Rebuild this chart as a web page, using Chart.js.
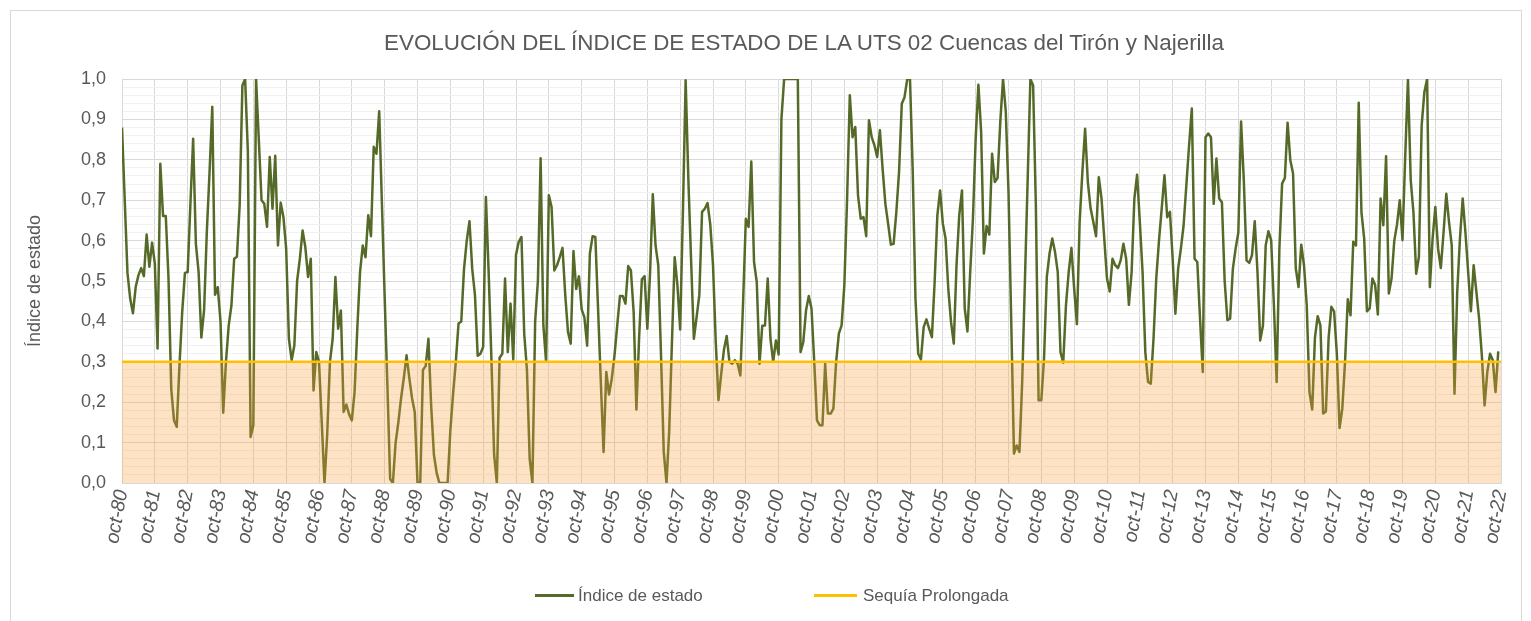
<!DOCTYPE html>
<html lang="es">
<head>
<meta charset="utf-8">
<title>Índice de estado UTS 02</title>
<script src="https://cdn.jsdelivr.net/npm/chart.js@4.4.1/dist/chart.umd.min.js"></script>
<style>
    html, body { margin: 0; padding: 0; background: #ffffff; }
    #wrap { position: relative; width: 1531px; height: 621px; overflow: hidden; font-family: "Liberation Sans", Arial, sans-serif; color: #595959; }
    #frame { position: absolute; left: 10px; top: 10px; width: 1512px; height: 660px; border: 1px solid #d9d9d9; box-sizing: border-box; }
    #grafico { position: absolute; left: 0; top: 0; }
    #titulo { position: absolute; left: 804px; top: 30px; transform: translateX(-50%); font-size: 22.4px; line-height: 26px; white-space: nowrap; }
    .leyenda { position: absolute; top: 586px; font-size: 17px; white-space: nowrap; line-height: 20px; }
    .leyenda i { display: inline-block; height: 3px; vertical-align: middle; position: relative; top: -1px; }
</style>
</head>
<body>
<div id="wrap">
    <div id="frame"></div>
    <canvas id="grafico" width="1531" height="621"></canvas>
    <div id="titulo">EVOLUCIÓN DEL ÍNDICE DE ESTADO DE LA UTS 02 Cuencas del Tirón y Najerilla</div>
    <div class="leyenda" style="left:535px"><i style="background:#556a28; width:39px; margin-right:4px"></i>Índice de estado</div>
    <div class="leyenda" style="left:814px"><i style="background:#ffc000; width:43px; margin-right:6px"></i>Sequía Prolongada</div>
</div>
<script>
// Etiquetas del eje X (una por año hidrológico)
const etiquetasAnio = [
    'oct-80', 'oct-81', 'oct-82', 'oct-83', 'oct-84', 'oct-85', 'oct-86', 'oct-87', 'oct-88', 'oct-89',
    'oct-90', 'oct-91', 'oct-92', 'oct-93', 'oct-94', 'oct-95', 'oct-96', 'oct-97', 'oct-98', 'oct-99',
    'oct-00', 'oct-01', 'oct-02', 'oct-03', 'oct-04', 'oct-05', 'oct-06', 'oct-07', 'oct-08', 'oct-09',
    'oct-10', 'oct-11', 'oct-12', 'oct-13', 'oct-14', 'oct-15', 'oct-16', 'oct-17', 'oct-18', 'oct-19',
    'oct-20', 'oct-21', 'oct-22'
];

// Umbral de sequía prolongada
const umbralSequia = 0.3;

// Índice de estado mensual, de oct-80 a sep-22 (una fila por año hidrológico)
const indiceEstado = [
    0.88, 0.70, 0.52, 0.456, 0.42, 0.485, 0.514, 0.532, 0.512, 0.615, 0.535, 0.595,   // 80-81
    0.543, 0.333, 0.79, 0.661, 0.661, 0.506, 0.233, 0.155, 0.139, 0.29, 0.423, 0.52,  // 81-82
    0.522, 0.69, 0.852, 0.592, 0.522, 0.36, 0.427, 0.621, 0.77, 0.931, 0.466, 0.485,  // 82-83
    0.40, 0.174, 0.30, 0.39, 0.44, 0.555, 0.56, 0.687, 0.984, 1.0, 0.82, 0.114,       // 83-84
    0.143, 1.0, 0.85, 0.70, 0.691, 0.634, 0.807, 0.679, 0.81, 0.588, 0.694, 0.658,    // 84-85
    0.58, 0.357, 0.304, 0.341, 0.50, 0.555, 0.625, 0.584, 0.51, 0.555, 0.229, 0.324,  // 85-86
    0.30, 0.151, 0.0, 0.12, 0.30, 0.357, 0.51, 0.382, 0.427, 0.176, 0.194, 0.17,      // 86-87
    0.155, 0.225, 0.382, 0.522, 0.588, 0.559, 0.663, 0.611, 0.832, 0.815, 0.92, 0.69, // 87-88
    0.46, 0.24, 0.01, 0.0, 0.10, 0.15, 0.21, 0.26, 0.316, 0.26, 0.21, 0.175,          // 88-89
    0.0, 0.0, 0.28, 0.29, 0.357, 0.19, 0.07, 0.025, 0.0, 0.0, 0.0, 0.0,               // 89-90
    0.13, 0.22, 0.30, 0.395, 0.40, 0.53, 0.60, 0.648, 0.53, 0.465, 0.315, 0.32,       // 90-91
    0.337, 0.708, 0.522, 0.31, 0.07, 0.0, 0.31, 0.32, 0.506, 0.324, 0.444, 0.306,     // 91-92
    0.565, 0.597, 0.609, 0.37, 0.28, 0.06, 0.0, 0.40, 0.50, 0.804, 0.39, 0.30,        // 92-93
    0.712, 0.683, 0.526, 0.539, 0.559, 0.582, 0.465, 0.374, 0.345, 0.574, 0.48, 0.512, // 93-94
    0.43, 0.41, 0.34, 0.568, 0.611, 0.609, 0.43, 0.25, 0.077, 0.275, 0.219, 0.258,    // 94-95
    0.316, 0.39, 0.463, 0.463, 0.444, 0.537, 0.526, 0.423, 0.182, 0.36, 0.504, 0.512, // 95-96
    0.382, 0.52, 0.715, 0.588, 0.539, 0.316, 0.077, 0.0, 0.13, 0.35, 0.559, 0.489,    // 96-97
    0.38, 0.67, 0.997, 0.75, 0.55, 0.357, 0.41, 0.465, 0.671, 0.679, 0.693, 0.64,     // 97-98
    0.54, 0.35, 0.205, 0.27, 0.33, 0.364, 0.30, 0.295, 0.304, 0.295, 0.266, 0.448,    // 98-99
    0.654, 0.634, 0.796, 0.547, 0.497, 0.295, 0.389, 0.39, 0.506, 0.357, 0.30, 0.353, // 99-00
    0.318, 0.90, 1.0, 1.0, 1.0, 1.0, 1.0, 1.0, 0.324, 0.349, 0.427, 0.463,            // 00-01
    0.432, 0.30, 0.155, 0.143, 0.143, 0.295, 0.172, 0.172, 0.184, 0.30, 0.37, 0.39,   // 01-02
    0.489, 0.70, 0.96, 0.856, 0.881, 0.712, 0.654, 0.658, 0.611, 0.898, 0.856, 0.836, // 02-03
    0.807, 0.873, 0.777, 0.691, 0.642, 0.59, 0.592, 0.67, 0.77, 0.939, 0.955, 1.0,    // 03-04
    1.0, 0.77, 0.456, 0.32, 0.306, 0.386, 0.405, 0.382, 0.361, 0.497, 0.663, 0.724,   // 04-05
    0.642, 0.605, 0.48, 0.398, 0.345, 0.539, 0.663, 0.724, 0.432, 0.375, 0.522, 0.654, // 05-06
    0.852, 0.986, 0.869, 0.568, 0.636, 0.615, 0.815, 0.745, 0.755, 0.894, 1.0, 0.92,  // 06-07
    0.72, 0.40, 0.073, 0.093, 0.077, 0.25, 0.50, 0.75, 1.0, 0.984, 0.687, 0.205,      // 07-08
    0.205, 0.31, 0.51, 0.568, 0.605, 0.572, 0.522, 0.324, 0.298, 0.44, 0.522, 0.582,  // 08-09
    0.481, 0.393, 0.646, 0.77, 0.877, 0.745, 0.68, 0.646, 0.611, 0.757, 0.704, 0.605, // 09-10
    0.506, 0.474, 0.555, 0.539, 0.532, 0.551, 0.592, 0.555, 0.441, 0.522, 0.704, 0.763, // 10-11
    0.646, 0.522, 0.324, 0.25, 0.246, 0.357, 0.506, 0.60, 0.68, 0.762, 0.658, 0.671,  // 11-12
    0.555, 0.419, 0.53, 0.58, 0.638, 0.737, 0.836, 0.927, 0.555, 0.547, 0.407, 0.275, // 12-13
    0.856, 0.865, 0.856, 0.691, 0.803, 0.704, 0.695, 0.50, 0.403, 0.407, 0.53, 0.58,  // 13-14
    0.62, 0.895, 0.75, 0.551, 0.545, 0.564, 0.648, 0.522, 0.353, 0.39, 0.588, 0.623,  // 14-15
    0.601, 0.44, 0.25, 0.58, 0.741, 0.755, 0.892, 0.799, 0.766, 0.531, 0.485, 0.59,   // 15-16
    0.539, 0.44, 0.225, 0.182, 0.36, 0.413, 0.39, 0.172, 0.177, 0.36, 0.436, 0.425,   // 16-17
    0.32, 0.136, 0.184, 0.30, 0.455, 0.415, 0.597, 0.588, 0.941, 0.67, 0.605, 0.425,  // 17-18
    0.432, 0.506, 0.49, 0.417, 0.704, 0.638, 0.809, 0.469, 0.506, 0.60, 0.64, 0.70,   // 18-19
    0.601, 0.81, 1.0, 0.75, 0.67, 0.518, 0.56, 0.885, 0.968, 1.0, 0.485, 0.605,       // 19-20
    0.683, 0.58, 0.532, 0.62, 0.716, 0.646, 0.588, 0.221, 0.473, 0.605, 0.704, 0.62,  // 20-21
    0.522, 0.425, 0.539, 0.473, 0.407, 0.316, 0.192, 0.275, 0.32, 0.304, 0.225, 0.326 // 21-22
];

const totalMeses = (etiquetasAnio.length - 1) * 12;
const fuente = '"Liberation Sans", Arial, sans-serif';
const gris = '#595959';

// Puntos para la escala lineal (un punto por mes)
const puntosIndice = indiceEstado.map((v, i) => ({ x: i, y: v }));
const puntosSequia = [];
for (let i = 0; i <= totalMeses; i++) {
    puntosSequia.push({ x: i, y: umbralSequia });
}

// Líneas principales cada 0,1 y secundarias cada 0,02
function esMayor(valor) {
    return Math.round(valor * 100) % 10 === 0;
}

const ctx = document.getElementById('grafico').getContext('2d');
const chart = new Chart(ctx, {
    type: 'line',
    data: {
        datasets: [{
            label: 'Sequía Prolongada',
            data: puntosSequia,
            borderColor: '#ffc000',
            borderWidth: 2.5,
            backgroundColor: 'rgba(248, 160, 60, 0.30)',
            fill: 'origin',
            pointRadius: 0,
            order: 1
        }, {
            label: 'Índice de estado',
            data: puntosIndice,
            borderColor: '#556a28',
            borderWidth: 2.5,
            borderJoinStyle: 'round',
            fill: false,
            pointRadius: 0,
            tension: 0,
            order: 2
        }]
    },
    options: {
        responsive: false,
        animation: false,
        layout: {
            padding: { left: 10, right: 30, top: 79, bottom: 78 }
        },
        plugins: {
            legend: { display: false },
            tooltip: { enabled: false }
        },
        scales: {
            x: {
                type: 'linear',
                min: 0,
                max: totalMeses,
                afterFit: function (scale) { scale.height = 60; },
                border: { color: '#d9d9d9' },
                grid: { color: '#d9d9d9', drawTicks: false },
                ticks: {
                    stepSize: 12,
                    autoSkip: false,
                    minRotation: 80,
                    maxRotation: 80,
                    padding: 5,
                    color: gris,
                    font: { family: fuente, size: 19.5, style: 'italic' },
                    callback: function (v) { return etiquetasAnio[Math.round(v / 12)]; }
                }
            },
            y: {
                min: 0,
                max: 1,
                afterFit: function (scale) { scale.width = 112; },
                border: { color: '#d9d9d9' },
                grid: {
                    drawTicks: false,
                    color: function (c) { return esMayor(c.tick.value) ? '#d9d9d9' : '#f1f1f1'; }
                },
                ticks: {
                    stepSize: 0.02,
                    autoSkip: false,
                    padding: 16,
                    color: gris,
                    font: { family: fuente, size: 18 },
                    callback: function (v) { return esMayor(v) ? v.toFixed(1).replace('.', ',') : ''; }
                },
                title: {
                    display: true,
                    text: 'Índice de estado',
                    color: gris,
                    font: { family: fuente, size: 18 },
                    padding: { top: 14, bottom: 0 }
                }
            }
        }
    }
});
</script>
</body>
</html>
